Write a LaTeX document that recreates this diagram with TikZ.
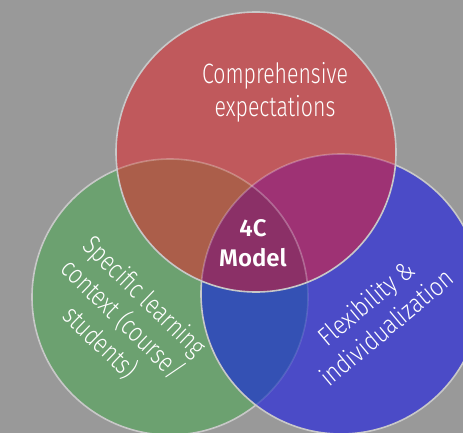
\documentclass[tikz,border=0pt]{standalone}
\usepackage{fontspec}
\setmainfont{Fira Sans}[UprightFont={* Light}, BoldFont={* SemiBold}]
\newfontfamily\narrowfont{Fira Sans}[UprightFont={* Light}, FakeStretch=0.76]
\newfontfamily\greenfont{Fira Sans}[UprightFont={* Light}, FakeStretch=0.80]
\newfontfamily\bluefont{Fira Sans}[UprightFont={* Light}, FakeStretch=0.86]
\newfontfamily\centerfont{Fira Sans}[UprightFont={* SemiBold}]

\definecolor{bggray}{RGB}{153,153,153}
\definecolor{ringgray}{RGB}{200,200,200}
\definecolor{cR}{RGB}{192,89,92}
\definecolor{cG}{RGB}{108,161,112}
\definecolor{cB}{RGB}{75,75,199}
\definecolor{cRG}{RGB}{171,94,74}
\definecolor{cRB}{RGB}{158,50,116}
\definecolor{cGB}{RGB}{52,81,180}
\definecolor{cRGB}{RGB}{139,48,103}

\tikzset{
  ring/.style={draw=ringgray, line width=1.6pt},
  faintring/.style={draw=white, draw opacity=0.12, line width=1.6pt},
  pinkring/.style={draw=white, draw opacity=0.28, line width=1.6pt},
  label/.style={text=white, align=center, inner sep=0pt},
}

\begin{document}
\begin{tikzpicture}[x=1pt, y=-1pt]
  \useasboundingbox (0,0) rectangle (463,433);
  \fill[bggray] (0,0) rectangle (463,433);

  % circle centres and radii
  \coordinate (pR) at (256,152);
  \coordinate (pG) at (170,297);
  \coordinate (pB) at (341,294);
  \def\rR{140}\def\rG{138}\def\rB{140}

  % green circle
  \fill[cG] (pG) circle[radius=\rG];
  \draw[ring] (pG) circle[radius=\rG];

  % blue circle over green
  \fill[cB] (pB) circle[radius=\rB];
  \begin{scope}
    \clip (pG) circle[radius=\rG];
    \fill[cGB] (pB) circle[radius=\rB];
  \end{scope}
  \begin{scope}
    \clip (pB) circle[radius=\rB];
    \draw[faintring] (pG) circle[radius=\rG];
  \end{scope}
  \draw[ring] (pB) circle[radius=\rB];

  % red circle on top
  \fill[cR] (pR) circle[radius=\rR];
  \begin{scope}
    \clip (pR) circle[radius=\rR];
    \begin{scope}
      \clip (pG) circle[radius=\rG];
      \fill[cRG] (pR) circle[radius=\rR];
    \end{scope}
    \begin{scope}
      \clip (pB) circle[radius=\rB];
      \fill[cRB] (pR) circle[radius=\rR];
      \clip (pG) circle[radius=\rG];
      \fill[cRGB] (pR) circle[radius=\rR];
    \end{scope}
    \draw[pinkring] (pG) circle[radius=\rG];
    \draw[pinkring] (pB) circle[radius=\rB];
  \end{scope}
  \draw[ring] (pR) circle[radius=\rR];

  % labels
  \node[label, font=\narrowfont\fontsize{28}{33}\selectfont] (tR) at (275,92)
    {Comprehensive\\expectations};
  \node[label, font=\greenfont\fontsize{27}{32}\selectfont, rotate=-44] (tG) at (122,320)
    {Specific learning\\context (course/\\students)};
  \node[label, font=\bluefont\fontsize{26}{32}\selectfont, rotate=40] (tB) at (376,315)
    {Flexibility \&\\individualization};
  \node[label, font=\centerfont\fontsize{24}{30}\selectfont] (tC) at (253,243)
    {4C\\Model};
\end{tikzpicture}
\end{document}
